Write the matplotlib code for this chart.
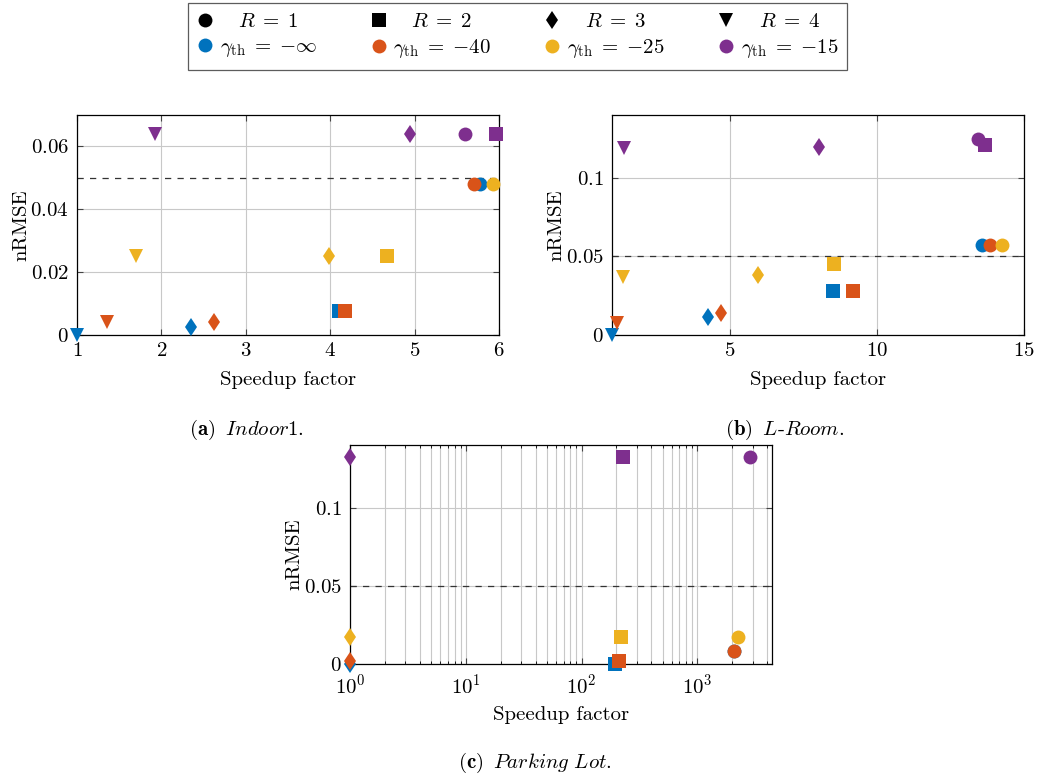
import matplotlib
matplotlib.use("Agg")
from matplotlib import pyplot as plt
from matplotlib.lines import Line2D
from matplotlib.ticker import FuncFormatter, LogLocator, NullFormatter

plt.rcParams["font.family"] = "cmr10"
plt.rcParams["mathtext.fontset"] = "cm"
plt.rcParams["axes.formatter.use_mathtext"] = True
plt.rcParams["font.size"] = 15

# legend entries
r_labels = [r"$\quad R\;=\;1$", r"$\quad R\;=\;2$", r"$\quad R\;=\;3$", r"$\quad R\;=\;4$"]
gamma_labels = [r"$\gamma_{\rm th}\;=\;{-\infty}$", r"$\gamma_{\rm th}\;=\;{-40}$",
                r"$\gamma_{\rm th}\;=\;{-25}$", r"$\gamma_{\rm th}\;=\;{-15}$"]
colors = ["#0072BD", "#D95319", "#EDB120", "#7E2F8E"]
markers = ["o", "s", "d", "v"]

# (a) Indoor1 -- rows: R=1..4, columns: gamma -inf, -40, -25, -15
indoor_x = [[5.77, 5.70, 5.93, 5.60],
            [4.10, 4.17, 4.67, 5.97],
            [2.35, 2.62, 3.98, 4.94],
            [1.00, 1.35, 1.70, 1.92]]
indoor_y = [[0.048, 0.048, 0.048, 0.064],
            [0.0075, 0.0075, 0.025, 0.064],
            [0.0025, 0.004, 0.025, 0.064],
            [0.0, 0.004, 0.025, 0.064]]

# (b) L-Room
lroom_x = [[13.56, 13.85, 14.24, 13.45],
           [8.53, 9.20, 8.55, 13.67],
           [4.25, 4.70, 5.95, 8.05],
           [1.00, 1.19, 1.37, 1.42]]
lroom_y = [[0.0574, 0.0574, 0.0574, 0.125],
           [0.0283, 0.0283, 0.045, 0.1206],
           [0.0113, 0.0138, 0.038, 0.1196],
           [0.0, 0.0079, 0.0366, 0.119]]

# (c) Parking Lot (R=4 not shown)
parking_x = [[2090, 2090, 2233, 2852],
             [194, 211, 218, 230],
             [1.0, 1.0, 1.0, 1.0]]
parking_y = [[0.0085, 0.0085, 0.0174, 0.1325],
             [0.0, 0.002, 0.0174, 0.1325],
             [0.0, 0.0021, 0.0174, 0.1325]]

threshold = 0.05
sizes = {"o": 10, "s": 9.6, "d": 9.5, "v": 10}


def fmt(v, pos):
    return "$0$" if v == 0 else "$%g$" % v


def draw(ax, xs, ys):
    for g in range(4):
        for r in range(len(xs)):
            m = markers[r]
            ax.plot(xs[r][g], ys[r][g], linestyle="none", marker=m,
                    markersize=sizes[m], color=colors[g],
                    markeredgewidth=0, clip_on=False, zorder=3)
    ax.axhline(threshold, color="#333333", linestyle=(0, (5, 5)),
               linewidth=0.9, zorder=2)
    ax.grid(True, which="major", color="#c8c8c8", linewidth=0.8)
    ax.set_axisbelow(True)
    ax.tick_params(direction="in", top=True, right=True, length=4,
                   labelsize=15, color="#444444")
    ax.tick_params(axis="y", pad=6)
    ax.tick_params(axis="x", pad=5)
    ax.yaxis.set_major_formatter(FuncFormatter(fmt))
    ax.set_xlabel("Speedup factor", labelpad=8)
    ax.set_ylabel("nRMSE", labelpad=0)
    for s in ax.spines.values():
        s.set_linewidth(0.9)


fig = plt.figure(figsize=(10.55, 7.78), dpi=100)

ax_a = fig.add_axes([0.073, 0.5694, 0.40, 0.2828])
draw(ax_a, indoor_x, indoor_y)
ax_a.set_xlim(1, 6)
ax_a.set_ylim(0, 0.07)
ax_a.set_yticks([0, 0.02, 0.04, 0.06])
ax_a.set_xticks([1, 2, 3, 4, 5, 6])
ax_a.xaxis.set_major_formatter(FuncFormatter(fmt))

ax_b = fig.add_axes([0.580, 0.5694, 0.3905, 0.2828])
draw(ax_b, lroom_x, lroom_y)
ax_b.set_xlim(1, 15)
ax_b.set_ylim(0, 0.14)
ax_b.set_yticks([0, 0.05, 0.1])
ax_b.set_xticks([5, 10, 15])
ax_b.xaxis.set_major_formatter(FuncFormatter(fmt))

ax_c = fig.add_axes([0.3318, 0.1465, 0.3997, 0.2815])
ax_c.set_xscale("log")
draw(ax_c, parking_x, parking_y)
ax_c.set_xlim(1, 4387)
ax_c.set_ylim(0, 0.14)
ax_c.set_yticks([0, 0.05, 0.1])
ax_c.xaxis.set_minor_locator(LogLocator(base=10, subs=range(2, 10)))
ax_c.xaxis.set_minor_formatter(NullFormatter())
ax_c.grid(True, which="minor", axis="x", color="#c8c8c8", linewidth=0.8)
ax_c.tick_params(which="minor", direction="in", top=True, length=2.5)
ax_c.tick_params(axis="x", pad=7)
ax_c.set_xlabel("Speedup factor", labelpad=6)

fig.text(0.234, 0.447, r"$\mathbf{(a)}\;\;\mathit{Indoor1.}$", ha="center", va="center", fontsize=15)
fig.text(0.7436, 0.447, r"$\mathbf{(b)}\;\;\mathit{L\text{-}Room.}$", ha="center", va="center", fontsize=15)
fig.text(0.507, 0.019, r"$\mathbf{(c)}\;\;\mathit{Parking\ Lot.}$", ha="center", va="center", fontsize=15)

handles, labels = [], []
for i in range(4):
    handles.append(Line2D([], [], linestyle="none", marker=markers[i], color="k",
                          markersize=sizes[markers[i]], markeredgewidth=0))
    labels.append(r_labels[i])
    handles.append(Line2D([], [], linestyle="none", marker="o", color=colors[i],
                          markersize=10, markeredgewidth=0))
    labels.append(gamma_labels[i])
leg = fig.legend(handles, labels, ncol=4, loc="upper center",
                 bbox_to_anchor=(0.4905, 0.996), borderaxespad=0,
                 frameon=True, fancybox=False,
                 edgecolor="#333333", fontsize=15, handlelength=0.8,
                 handletextpad=0.3, columnspacing=2.55, borderpad=0.45,
                 labelspacing=0.3)
leg.get_frame().set_linewidth(0.9)

fig.savefig("out.png", dpi=100)
